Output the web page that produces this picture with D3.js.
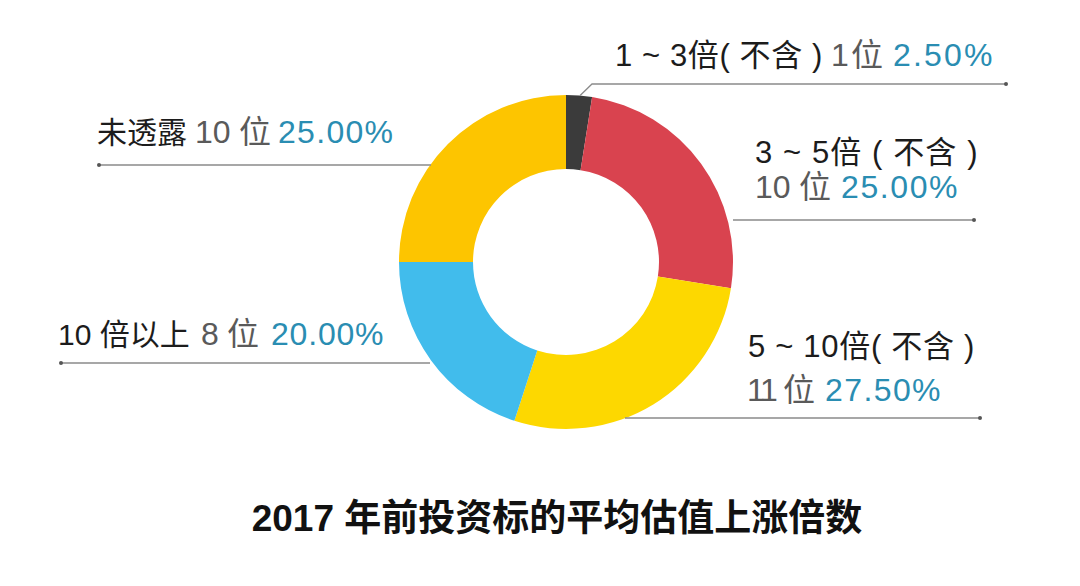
<!DOCTYPE html>
<html><head><meta charset="utf-8">
<script src="https://cdn.jsdelivr.net/npm/d3@7/dist/d3.min.js"></script>
<style>
html,body{margin:0;padding:0;background:#fff;}
svg{display:block;}
text{font-family:"Liberation Sans","Noto Sans CJK SC",sans-serif;}
</style></head>
<body>
<svg id="chart" width="1080" height="586"></svg>
<script>
// ---- data ----
const categories = ["1 ~ 3倍( 不含 )", "3 ~ 5倍 ( 不含 )", "5 ~ 10倍( 不含 )", "10 倍以上", "未透露"];
const counts = [1, 10, 11, 8, 10];
const unit = "位";
const colors = ["#3b3b3b", "#d9434f", "#fdd800", "#41bcec", "#fdc500"];
const title = "2017 年前投资标的平均估值上涨倍数";

const total = d3.sum(counts);
const fmt = d3.format(".2%");

const svg = d3.select("#chart");
const cx = 566, cy = 262, rOut = 167, rIn = 93;

const pie = d3.pie().sort(null).value(d => d)(counts);
const arc = d3.arc().innerRadius(rIn).outerRadius(rOut);
const g = svg.append("g").attr("transform", `translate(${cx},${cy})`);
g.selectAll("path").data(pie).enter().append("path")
  .attr("d", arc).attr("fill", (d, i) => colors[i]);

// leader lines
const lineColor = "#8a8a8a";
function outerPoint(i, frac, r) {
  const a = pie[i].startAngle + (pie[i].endAngle - pie[i].startAngle) * frac;
  return [cx + r * Math.sin(a), cy - r * Math.cos(a)];
}
const p0 = outerPoint(0, 0.5, rOut);
const leaders = [
  {pts: [[p0[0] + 1, p0[1]], [592, 84], [1006, 84]], dot: [1006, 84]},
  {pts: [[733, 220], [974, 220]], dot: [974, 220]},
  {pts: [[625, 418], [980, 418]], dot: [980, 418]},
  {pts: [[430, 363], [61, 363]], dot: [61, 363]},
  {pts: [[431, 165], [99, 165]], dot: [99, 165]}
];
leaders.forEach(l => {
  svg.append("path").attr("d", d3.line()(l.pts)).attr("fill", "none")
    .attr("stroke", lineColor).attr("stroke-width", 1.3);
  svg.append("circle").attr("cx", l.dot[0]).attr("cy", l.dot[1]).attr("r", 2).attr("fill", "#555");
});

// labels
const blk = "#1c1c1c", gry = "#5a5a5a", blu = "#2a8db2";
const fs = 32;
function seg(parent, x, str, color, ls, size) {
  const s = parent.append("tspan").attr("x", x).attr("fill", color)
    .attr("letter-spacing", ls || 0).text(str);
  if (size) s.attr("font-size", size);
}
function line(y) {
  return svg.append("text").attr("y", y).attr("font-size", fs);
}
// label 1
let t = line(66);
seg(t, 615, categories[0], blk, 0.6, 31);
seg(t, 831, counts[0], gry);
seg(t, 851, unit, gry);
seg(t, 893, fmt(counts[0] / total), blu, 2.2);
// label 2
t = line(163); seg(t, 755, categories[1], blk, 1.1, 31);
t = line(198);
seg(t, 755, counts[1], gry);
seg(t, 799, unit, gry);
seg(t, 841, fmt(counts[1] / total), blu, 1.6);
// label 3
t = line(357); seg(t, 748, categories[2], blk, 0.7, 31);
t = line(401);
seg(t, 747, counts[2], gry, -2.5);
seg(t, 783, unit, gry);
seg(t, 825, fmt(counts[2] / total), blu, 1.4);
// label 4
t = line(345);
seg(t, 58, categories[3], blk, 0, 30);
seg(t, 201, counts[3], gry);
seg(t, 227, unit, gry);
seg(t, 271, fmt(counts[3] / total), blu, 0.8);
// label 5
t = line(143);
seg(t, 97, categories[4], blk, 0, 30);
seg(t, 195, counts[4], gry);
seg(t, 239, unit, gry);
seg(t, 278, fmt(counts[4] / total), blu, 1.3);

svg.append("text").attr("x", 557).attr("y", 531).attr("text-anchor", "middle")
  .attr("font-size", 37).attr("font-weight", "bold").attr("fill", "#111")
  .attr("font-family", "'Noto Sans CJK SC','Liberation Sans',sans-serif")
  .text(title);
</script>
</body></html>
